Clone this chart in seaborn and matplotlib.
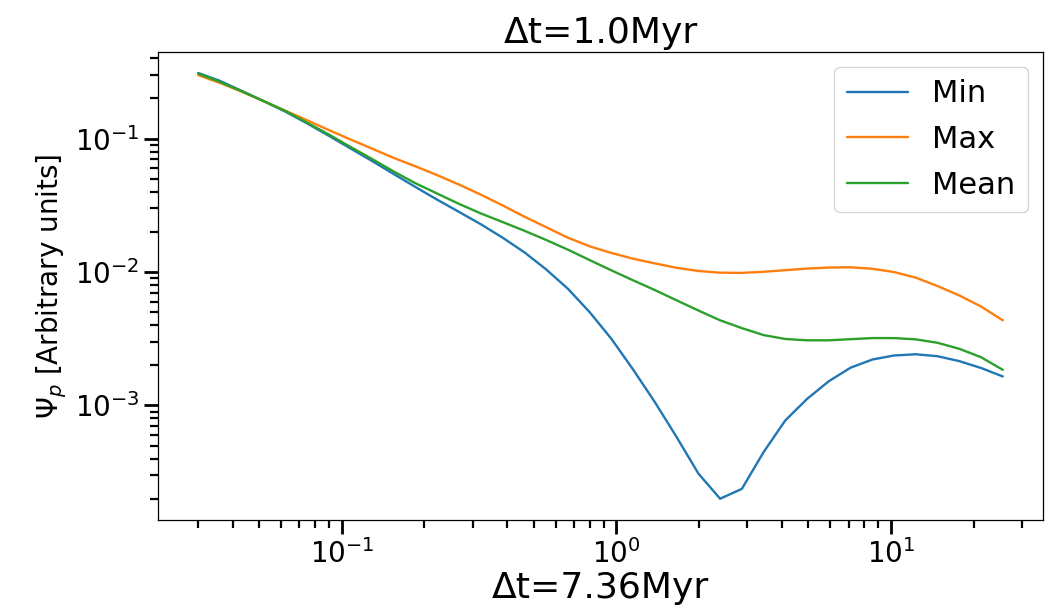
import matplotlib
matplotlib.use("Agg")
import matplotlib.pyplot as plt
import seaborn as sns
import pandas as pd

# Data
x_values = [0.03, 0.036, 0.0432, 0.05184, 0.06221, 0.07465, 0.08958, 0.1075,
            0.129, 0.1548, 0.1858, 0.2229, 0.2675, 0.321, 0.3852, 0.4622,
            0.5547, 0.6656, 0.7987, 0.9585, 1.150, 1.380, 1.656, 1.988,
            2.385, 2.862, 3.434, 4.121, 4.946, 5.935, 7.122, 8.546,
            10.26, 12.31, 14.77, 17.72, 21.27, 25.52]

min_values = [0.3105, 0.2710, 0.2280, 0.1914, 0.1596, 0.1303, 0.1052, 0.0845,
              0.0679, 0.0542, 0.0433, 0.0348, 0.0282, 0.0228, 0.0181, 0.01406,
              0.01047, 0.0075, 0.00501, 0.00316, 0.00186, 0.00106, 0.00058, 0.000309,
              0.0002, 0.000237, 0.000447, 0.000773, 0.00112, 0.00152, 0.00192, 0.00221,
              0.00237, 0.00242, 0.00234, 0.00215, 0.00191, 0.00165]

max_values = [0.2992, 0.2618, 0.2249, 0.1914, 0.1622, 0.1374, 0.1161, 0.0986,
              0.0841, 0.0716, 0.0619, 0.0532, 0.0452, 0.0380, 0.0316, 0.0260,
              0.0217, 0.0181, 0.0156, 0.0139, 0.01259, 0.01161, 0.01076, 0.01019,
              0.00989, 0.00986, 0.01005, 0.01033, 0.01062, 0.01081, 0.01086, 0.01059,
              0.0100, 0.00908, 0.00785, 0.00668, 0.00552, 0.00435]

mean_values = [0.3069, 0.2661, 0.2265, 0.1914, 0.1614, 0.1318, 0.1076, 0.0867,
               0.0703, 0.0566, 0.0462, 0.0387, 0.0324, 0.0275, 0.0237, 0.0204,
               0.0174, 0.01472, 0.01230, 0.01030, 0.00867, 0.00733, 0.00614, 0.00515,
               0.00435, 0.0038, 0.00337, 0.00315, 0.00308, 0.00308, 0.00314, 0.0032,
               0.0032, 0.00313, 0.00295, 0.00266, 0.0023, 0.00185]

series_names = ["Min", "Max", "Mean"]
series_colors = ["#1f77b4", "#ff7f0e", "#2ca02c"]

title_text = "Δt=1.0Myr"
xlabel_text = "Δt=7.36Myr"
ylabel_text = r"$\Psi_p$ [Arbitrary units]"

sns.set_style("ticks")
plt.rcParams["font.family"] = ["DejaVu Sans"]
plt.rcParams.update({
    "text.color": "black",
    "axes.labelcolor": "black",
    "axes.edgecolor": "black",
    "axes.linewidth": 0.9,
    "xtick.color": "black",
    "ytick.color": "black",
    "xtick.labelcolor": "black",
    "ytick.labelcolor": "black",
    "xtick.major.size": 10,
    "ytick.major.size": 10,
    "xtick.minor.size": 6,
    "ytick.minor.size": 6,
    "xtick.major.width": 2.0,
    "ytick.major.width": 2.0,
    "xtick.minor.width": 1.6,
    "ytick.minor.width": 1.6,
    "xtick.direction": "out",
    "ytick.direction": "out",
})

fig = plt.figure(figsize=(10.45, 6.12), dpi=100)
ax = fig.add_axes([0.1512, 0.1503, 0.8469, 0.7652])
ax.set_xscale("log")
ax.set_yscale("log")

for name, vals, col in zip(series_names, [min_values, max_values, mean_values], series_colors):
    df = pd.DataFrame({"x": x_values, "y": vals})
    sns.lineplot(data=df, x="x", y="y", ax=ax, color=col, linewidth=1.7, label=name)

ax.set_title(title_text, fontsize=26, color="black")
ax.set_xlabel(xlabel_text, fontsize=26, labelpad=2)
ax.set_ylabel(ylabel_text, fontsize=20)
ax.tick_params(axis="both", which="major", labelsize=20)
for s in ax.spines.values():
    s.set_visible(True)
leg = ax.legend(loc="upper right", fontsize=22, labelspacing=0.55)
for t in leg.get_texts():
    t.set_color("black")

fig.savefig("out.png", dpi=100)
